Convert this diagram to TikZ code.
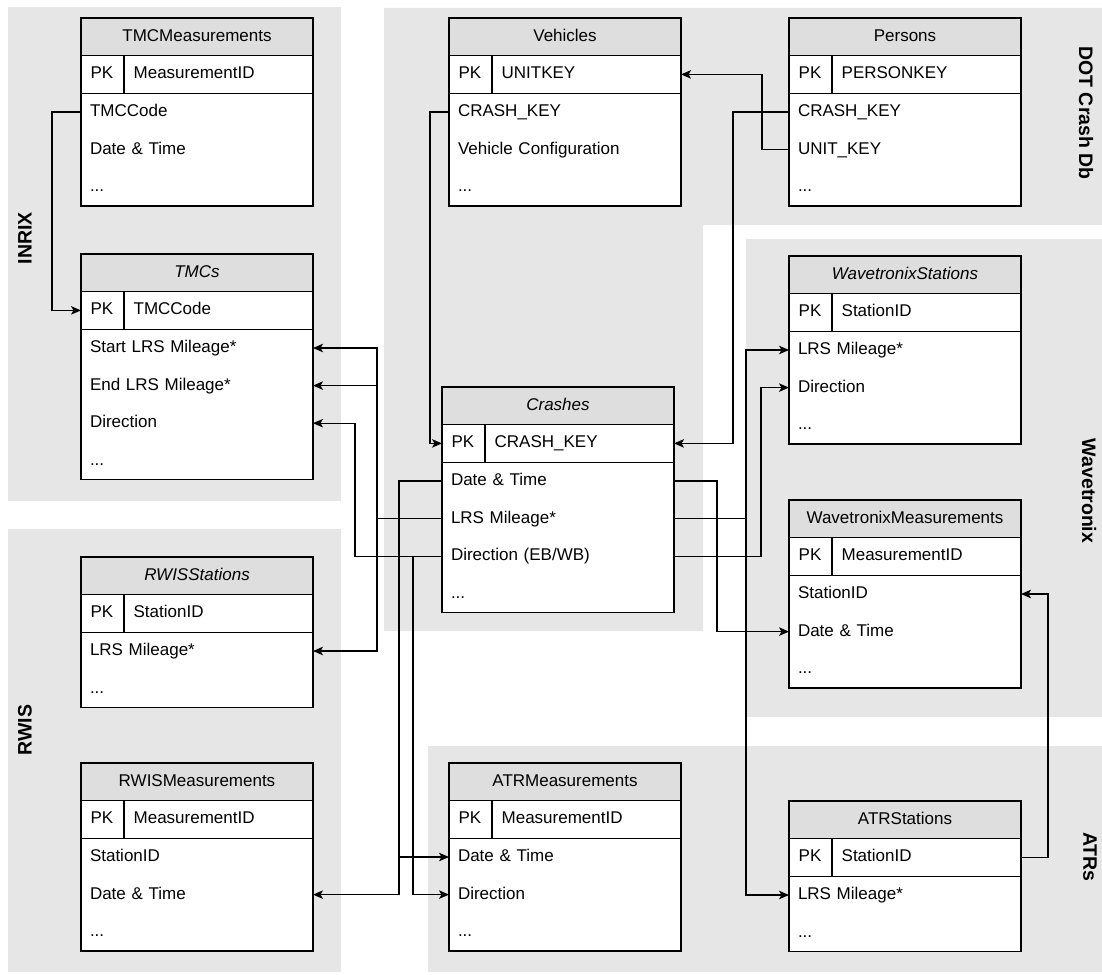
\documentclass[tikz,border=0pt]{standalone}
\usepackage{fontspec}
\setmainfont{Liberation Sans}
\usetikzlibrary{positioning,arrows.meta}

\definecolor{groupgray}{HTML}{E6E6E6}
\definecolor{headgray}{HTML}{DEDEDE}

\newcommand{\tablefont}{\fontsize{17}{20}\selectfont}
\newcommand{\groupfont}{\fontsize{19.5}{23}\selectfont\bfseries}
\newcommand{\moredots}{...}

\tikzset{
  ehead/.style={draw, fill=headgray, minimum width=232pt, minimum height=37.6pt,
    inner sep=0pt, outer sep=0pt, text height=12pt, text depth=3pt, font=\tablefont},
  ekey/.style={draw, fill=white, minimum width=232pt, minimum height=37.6pt,
    inner sep=0pt, outer sep=0pt},
  efield/.style={inner xsep=9pt, inner ysep=0pt, text height=12pt, text depth=3pt, font=\tablefont},
  erow/.style={fill=white, text width=214pt, inner xsep=9pt, inner ysep=0pt, outer sep=0pt, align=left,
    minimum height=37.6pt, text height=12pt, text depth=3pt, font=\tablefont},
  grouplabel/.style={font=\groupfont, inner sep=0pt},
  fk/.style={draw, -{Stealth[length=10pt,width=8.5pt,inset=2.5pt]}},
}

% name, top left corner, title, key field, other fields
\newcommand{\entity}[5]{%
  \node[ehead, anchor=north west] (#1) at (#2) {#3};
  \node[ekey, below=0pt of #1] (#1-pk) {};
  \node[efield, anchor=west] at (#1-pk.west) {PK};
  \node[efield, anchor=west] at ([xshift=43pt]#1-pk.west) {#4};
  \draw ([xshift=43pt]#1-pk.north west) -- ([xshift=43pt]#1-pk.south west);
  \foreach \f [count=\i] in {#5} {
    \node[erow, anchor=north west] (#1-\i) at ([yshift=-(\i-1)*37.6pt]#1-pk.south west) {\f};
    \xdef\lastrow{\i}
  }
  \draw (#1-pk.south west) rectangle (#1-\lastrow.south east);
}

\begin{document}
\begin{tikzpicture}[x=1pt, y=-1pt, line width=1.3pt]
  \useasboundingbox (0,0) rectangle (1102,974);

  % groups
  \fill[groupgray] (8,7) rectangle (341,501);
  \fill[groupgray] (8,529) rectangle (341,972);
  \fill[groupgray] (384,8) -- (1102,8) -- (1102,225) -- (703,225) -- (703,631) -- (384,631) -- cycle;
  \fill[groupgray] (746,239) rectangle (1102,717);
  \fill[groupgray] (428,746) rectangle (1102,972);

  \node[grouplabel, rotate=90] (inrix) at (25,238) {INRIX};
  \node[grouplabel, rotate=90] (rwis) at (25,730) {RWIS};
  \node[grouplabel, rotate=-90] (dot) at (1086,113) {DOT Crash Db};
  \node[grouplabel, rotate=-90] (wavetronix) at (1089,491) {Wavetronix};
  \node[grouplabel, rotate=-90] (atrs) at (1090,857) {ATRs};

  % tables
  \entity{tmcmeas}{81,18}{TMCMeasurements}{MeasurementID}{TMCCode, Date \& Time, \moredots}
  \entity{tmcs}{81,254}{\textit{TMCs}}{TMCCode}{Start LRS Mileage*, End LRS Mileage*, Direction, \moredots}
  \entity{rwisst}{81,557}{\textit{RWISStations}}{StationID}{LRS Mileage*, \moredots}
  \entity{rwismeas}{81,763}{RWISMeasurements}{MeasurementID}{StationID, Date \& Time, \moredots}
  \entity{vehicles}{449,18}{Vehicles}{UNITKEY}{CRASH\_KEY, Vehicle Configuration, \moredots}
  \entity{crashes}{442,387}{\textit{Crashes}}{CRASH\_KEY}{Date \& Time, LRS Mileage*, Direction (EB/WB), \moredots}
  \entity{atrmeas}{449,763}{ATRMeasurements}{MeasurementID}{Date \& Time, Direction, \moredots}
  \entity{persons}{789,18}{Persons}{PERSONKEY}{CRASH\_KEY, UNIT\_KEY, \moredots}
  \entity{wavst}{789,256}{\textit{WavetronixStations}}{StationID}{LRS Mileage*, Direction, \moredots}
  \entity{wavmeas}{789,500}{WavetronixMeasurements}{MeasurementID}{StationID, Date \& Time, \moredots}
  \entity{atrst}{789,801}{ATRStations}{StationID}{LRS Mileage*, \moredots}

  % keys
  \path[fk] (tmcmeas-1.west) -- ++(-29,0) |- (tmcs-pk.west);
  \path[fk] (vehicles-1.west) -- ++(-19,0) |- (crashes-pk.west);
  \path[fk] (persons-2.west) -- ++(-27,0) |- (vehicles-pk.east);
  \path[fk] (persons-1.west) -- ++(-56,0) |- (crashes-pk.east);
  \path[fk] (atrst-pk.east) -- ++(27,0) |- (wavmeas-1.east);

  % crashes, left side
  \path[fk] (crashes-1.west) -- ++(-43,0) coordinate (dt-w) |- (rwismeas-2.east);
  \path[fk] (dt-w) |- (atrmeas-1.west);
  \path[fk] (crashes-2.west) -- ++(-65,0) coordinate (lrs-w) |- (tmcs-1.east);
  \path[fk] (lrs-w) |- (tmcs-2.east);
  \path[fk] (lrs-w) |- (rwisst-1.east);
  \path[fk] (crashes-3.west) -- ++(-87,0) |- (tmcs-3.east);
  \path[fk] ([xshift=-29pt]crashes-3.west) coordinate (dir-w) |- (atrmeas-2.west);

  % crashes, right side
  \path[fk] (crashes-1.east) -- ++(43,0) |- (wavmeas-2.west);
  \path[fk] (crashes-2.east) -- ++(72,0) coordinate (lrs-e) |- (wavst-1.west);
  \path[fk] (lrs-e) |- (atrst-1.west);
  \path[fk] (crashes-3.east) -- ++(87,0) |- (wavst-2.west);
\end{tikzpicture}
\end{document}
